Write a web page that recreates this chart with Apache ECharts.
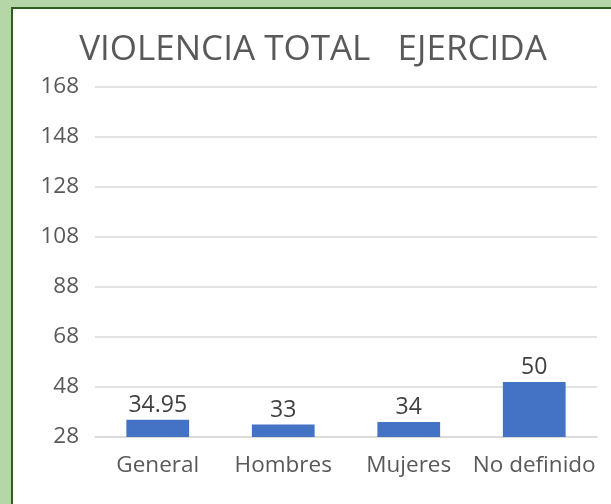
<!DOCTYPE html>
<html>
<head>
<meta charset="utf-8">
<script src="https://cdn.jsdelivr.net/npm/echarts@6/dist/echarts.min.js"></script>
<style>
  html, body { margin: 0; padding: 0; width: 611px; height: 504px; background: #b5d7a8; overflow: hidden; }
  #chart {
    position: absolute; left: 11px; top: 7px; width: 600px; height: 497px;
    border-left: 2px solid #2f5f1f; border-top: 2px solid #2f5f1f;
    background: #ffffff;
  }
</style>
</head>
<body>
<div id="chart"></div>
<script>
  var categories = ['General', 'Hombres', 'Mujeres', 'No definido'];
  var values = [34.95, 33, 34, 50];
  var yMin = 28, yMax = 168, yStep = 20;

  var font = "'Open Sans', 'Noto Sans', sans-serif";
  var chart = echarts.init(document.getElementById('chart'));

  chart.setOption({
    animation: false,
    backgroundColor: '#ffffff',
    title: {
      text: 'VIOLENCIA TOTAL   EJERCIDA',
      left: 'center',
      top: 19,
      textStyle: { fontFamily: font, fontSize: 35, fontWeight: 'normal', color: '#595959' }
    },
    grid: { left: 82, right: 16, top: 78, bottom: 69 },
    xAxis: {
      type: 'category',
      data: categories,
      axisLine: { lineStyle: { color: '#d9d9d9', width: 1.5 } },
      axisTick: { show: false },
      axisLabel: { interval: 0, fontFamily: font, fontSize: 22.5, color: '#595959', margin: 17 }
    },
    yAxis: {
      type: 'value',
      min: yMin,
      max: yMax,
      interval: yStep,
      axisLine: { show: false },
      axisTick: { show: false },
      axisLabel: { fontFamily: font, fontSize: 22.5, color: '#595959', margin: 16 },
      splitLine: { lineStyle: { color: '#d9d9d9', width: 1.5 } }
    },
    series: [{
      type: 'bar',
      data: values,
      barWidth: '50%',
      itemStyle: { color: '#4472c4' },
      label: {
        show: true,
        position: 'top',
        distance: 3,
        fontFamily: font,
        fontSize: 23,
        color: '#404040'
      }
    }]
  });
</script>
</body>
</html>
